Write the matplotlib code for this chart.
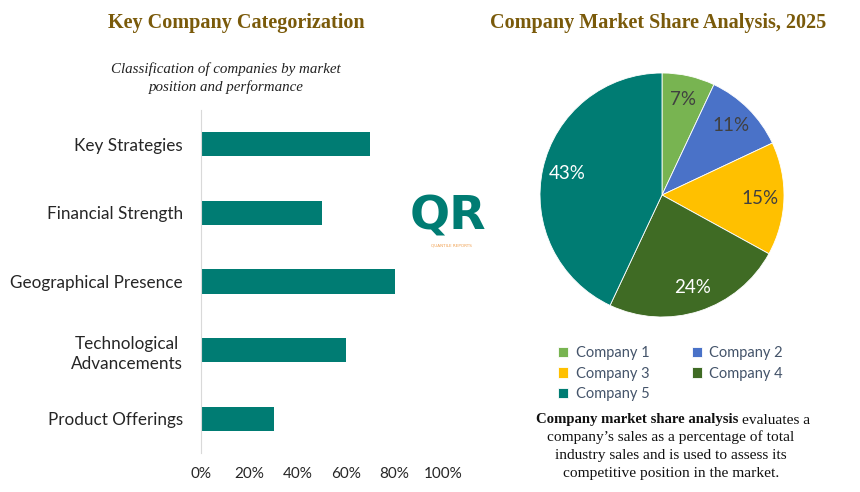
import numpy as np
import matplotlib.pyplot as plt

# Data
categories = ['Key Strategies', 'Financial Strength', 'Geographical Presence',
              'Technological\nAdvancements', 'Product Offerings']
scores = [0.70, 0.50, 0.80, 0.60, 0.30]

companies = ['Company 1', 'Company 2', 'Company 3', 'Company 4', 'Company 5']
shares = [7, 11, 15, 24, 43]
pie_colors = ['#78B451', '#4A72C8', '#FFC000', '#3F6B24', '#007C73']
label_colors = ['#404040', '#404040', '#404040', '#FFFFFF', '#FFFFFF']

desc_lines = ['company\u2019s sales as a percentage of total',
              'industry sales and is used to assess its',
              'competitive position in the market.']

title_color = '#7A5A0A'
teal = '#007C73'

fig = plt.figure(figsize=(8.6, 4.92), dpi=100)

# Titles
fig.text(236 / 860, 1 - 23 / 492, 'Key Company Categorization', ha='center', va='center',
         fontsize=14.5, fontweight='bold', family='Liberation Serif', color=title_color)
fig.text(658 / 860, 1 - 23 / 492, 'Company Market Share Analysis, 2025', ha='center', va='center',
         fontsize=14.5, fontweight='bold', family='Liberation Serif', color=title_color)
fig.text(226 / 860, 1 - 78 / 492, 'Classification of companies by market\nposition and performance',
         ha='center', va='center', fontsize=10.8, style='italic', family='Liberation Serif',
         color='#222222', linespacing=1.45)

# Bar chart
ax = fig.add_axes([201 / 860, 1 - 453 / 492, 242 / 860, 343 / 492])
y = np.arange(len(categories))
ax.barh(y, scores, height=0.35, color=teal)
ax.set_xlim(0, 1)
ax.set_ylim(-0.5, len(categories) - 0.5)
ax.invert_yaxis()
ax.set_yticks(y)
ax.set_yticklabels(categories, fontsize=12.3, family='Lato', color='#262626')
for t in ax.get_yticklabels():
    t.set_multialignment('center')
    t.set_linespacing(1.35)
ax.set_xticks(np.arange(0, 1.01, 0.2))
ax.set_xticklabels([f'{int(v * 100)}%' for v in np.arange(0, 1.01, 0.2)],
                   fontsize=11, family='Lato', color='#262626')
ax.tick_params(length=0)
ax.tick_params(axis='x', pad=10)
ax.tick_params(axis='y', pad=13)
for s in ['top', 'right', 'bottom']:
    ax.spines[s].set_visible(False)
ax.spines['left'].set_color('#D9D9D9')

# Logo in the middle
fig.text(448 / 860, 1 - 217 / 492, 'QR', ha='center', va='center', fontsize=34,
         fontweight='bold', family='DejaVu Sans', color=teal)
fig.text(451 / 860, 1 - 245 / 492, 'QUANTILE REPORTS', ha='center', va='center',
         fontsize=3, family='DejaVu Sans', color='#F0A050')

# Pie chart
pax = fig.add_axes([540 / 860, 1 - 317 / 492, 244 / 860, 244 / 492])
wedges, texts, autotexts = pax.pie(shares, colors=pie_colors, startangle=90, counterclock=False,
                                   autopct='%d%%', pctdistance=0.8,
                                   wedgeprops=dict(linewidth=0.6, edgecolor='white'),
                                   textprops=dict(fontsize=13.5, family='Lato'))
for t, c in zip(autotexts, label_colors):
    t.set_color(c)
pax.set_xlim(-1, 1)
pax.set_ylim(-1, 1)
pax.set_aspect('equal')

# legend filled row by row like the original
order = [0, 2, 4, 1, 3]
leg = fig.legend([wedges[i] for i in order], [companies[i] for i in order],
                 loc='upper left', bbox_to_anchor=(545 / 860, 1 - 333 / 492),
                 ncol=2, frameon=False, handlelength=0.7, handleheight=0.7,
                 handletextpad=0.5, columnspacing=2.9, labelspacing=0.45,
                 prop=dict(family='Lato', size=10.5))
for t in leg.get_texts():
    t.set_color('#44546A')

# Description text
fig.text(738 / 860, 1 - 420 / 492, 'Company market share analysis', ha='right', va='center',
         fontsize=10.6, fontweight='bold', family='Liberation Serif', color='#111111')
fig.text(742 / 860, 1 - 420 / 492, 'evaluates a', ha='left', va='center',
         fontsize=11.1, family='Liberation Serif', color='#111111')
for i, line in enumerate(desc_lines):
    fig.text(671 / 860, 1 - (437 + 18 * i) / 492, line, ha='center', va='center',
             fontsize=11.1, family='Liberation Serif', color='#111111')

fig.savefig('out.png', dpi=100)
